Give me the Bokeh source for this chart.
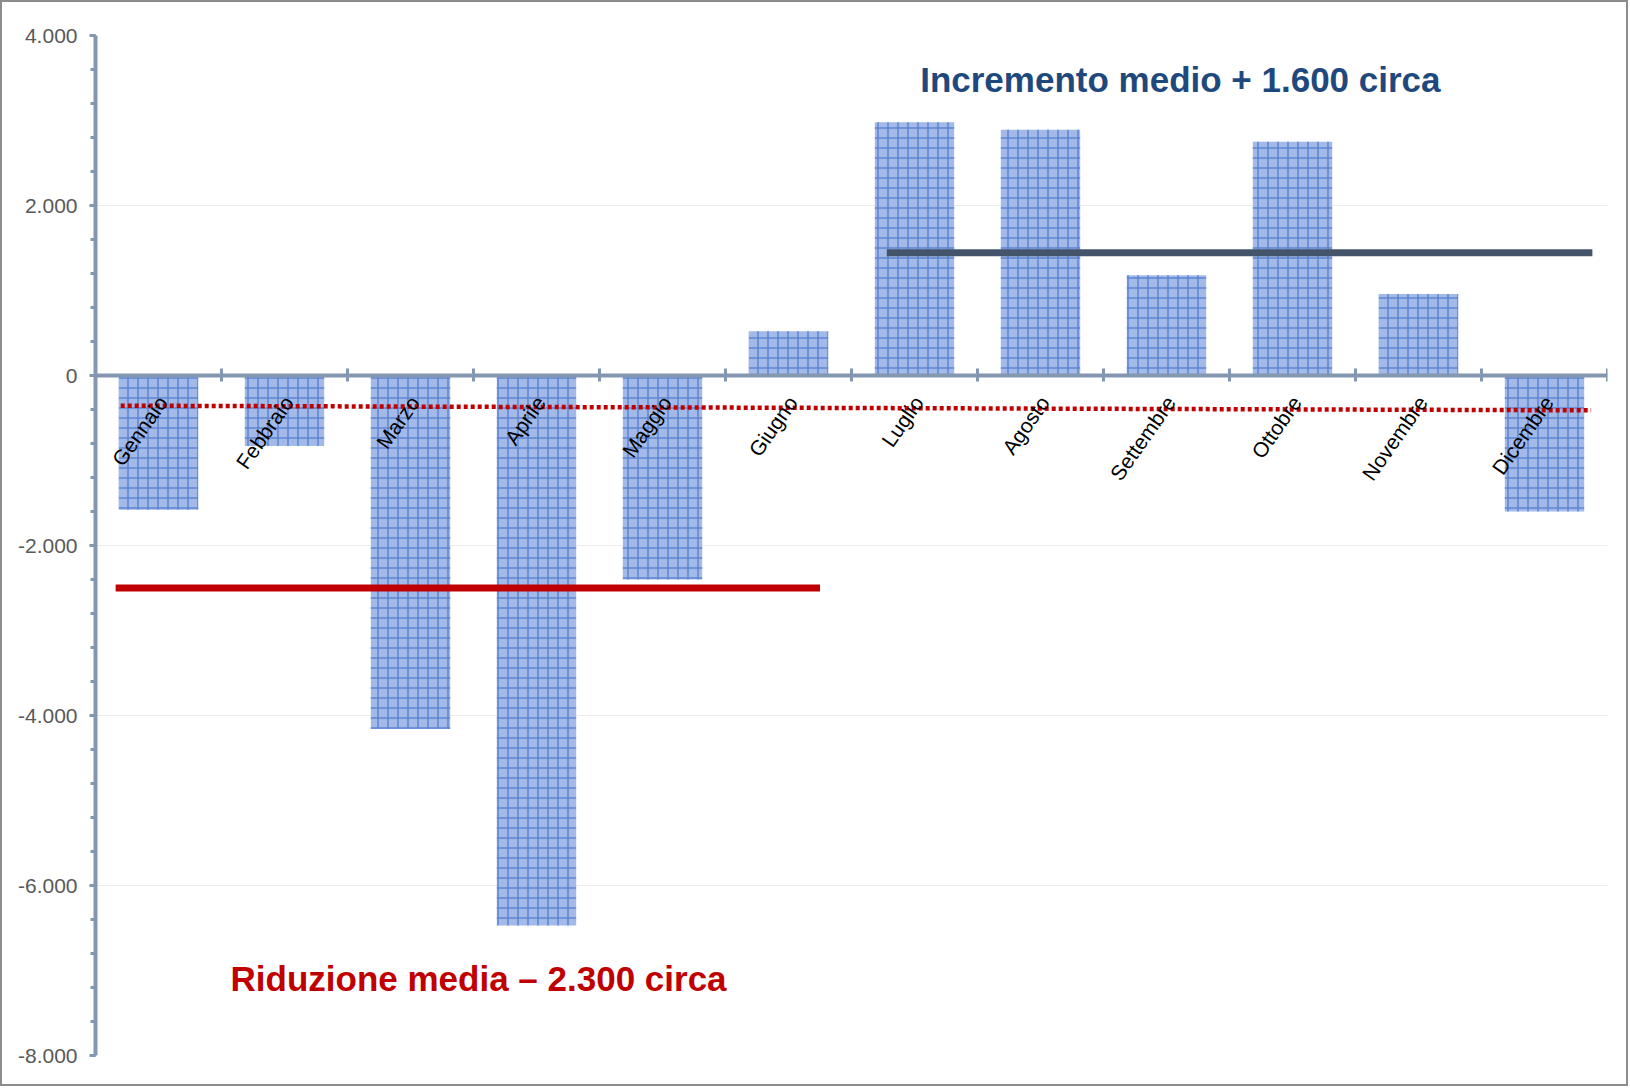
import math
import numpy as np
from bokeh.plotting import figure
from bokeh.models import (Range1d, LinearAxis, FixedTicker, Label, ColumnDataSource)
from bokeh.core.properties import value
from bokeh.embed import file_html
from bokeh.resources import INLINE

# ---- data ----
months = ["Gennaio", "Febbraio", "Marzo", "Aprile", "Maggio", "Giugno",
          "Luglio", "Agosto", "Settembre", "Ottobre", "Novembre", "Dicembre"]
values = [-1580, -830, -4160, -6470, -2400, 520, 2980, 2890, 1180, 2750, 960, -1600]
avg_reduction = -2500      # first five months
avg_increase = 1445        # July - December
trend_start = -355
trend_end = -410
y_ticks = [-8000, -6000, -4000, -2000, 0, 2000, 4000]
y_tick_labels = ["-8.000", "-6.000", "-4.000", "-2.000", "0", "2.000", "4.000"]
label_increase = "Incremento medio + 1.600 circa"
label_reduction = "Riduzione media \u2013 2.300 circa"

x = np.arange(len(months))

p = figure(width=1628, height=1086, output_backend="svg", toolbar_location=None,
           x_range=Range1d(-0.5, len(months) - 0.5), y_range=Range1d(-8000, 4000),
           x_axis_location=None, y_axis_location=None)
p.min_border_left = 93
p.min_border_top = 33
p.min_border_bottom = 33
p.min_border_right = 23
p.outline_line_color = None
p.background_fill_color = "white"
p.border_fill_color = "white"
p.styles = {"border": "2px solid #8c8c8c"}

axis_color = "#8497B0"

# y axis
yaxis = LinearAxis(ticker=FixedTicker(ticks=y_ticks,
                                      minor_ticks=list(range(-8000, 4001, 400))))
yaxis.major_label_overrides = {t: l for t, l in zip(y_ticks, y_tick_labels)}
yaxis.axis_line_color = axis_color
yaxis.axis_line_width = 4
yaxis.major_tick_line_color = axis_color
yaxis.major_tick_line_width = 3
yaxis.major_tick_out = 6
yaxis.major_tick_in = 0
yaxis.minor_tick_line_color = axis_color
yaxis.minor_tick_line_width = 3
yaxis.minor_tick_out = 5
yaxis.minor_tick_in = 0
yaxis.major_label_text_font = "Liberation Sans"
yaxis.major_label_text_font_size = "21px"
yaxis.major_label_text_color = "#595959"
yaxis.major_label_standoff = 12
p.add_layout(yaxis, "left")

# x axis at zero (category boundaries as ticks)
xaxis = LinearAxis(fixed_location=0,
                   ticker=FixedTicker(ticks=[],
                                      minor_ticks=[i - 0.5 for i in range(len(months) + 1)]))
xaxis.axis_line_color = axis_color
xaxis.axis_line_width = 4
xaxis.major_tick_line_color = None
xaxis.minor_tick_line_color = axis_color
xaxis.minor_tick_line_width = 3
xaxis.minor_tick_in = 7
xaxis.minor_tick_out = 6
xaxis.major_label_text_font_size = "0px"
p.add_layout(xaxis, "below")

# grid
p.ygrid.ticker = FixedTicker(ticks=y_ticks)
p.ygrid.grid_line_color = "#ececec"
p.ygrid.grid_line_width = 1
p.xgrid.grid_line_color = None

src = ColumnDataSource(dict(x=x, top=values, month=months, zero=[0] * len(months)))

# bars
p.vbar(x="x", top="top", bottom=0, width=0.63, source=src,
       fill_color="#A3B9E7", line_color=None,
       hatch_pattern="+", hatch_color="#5580CF", hatch_scale=10,
       hatch_weight=1.5, hatch_alpha=0.9)

# average lines
p.line(x=[-0.34, 5.25], y=[avg_reduction, avg_reduction],
       line_color="#C00000", line_width=7)
p.line(x=[5.78, 11.38], y=[avg_increase, avg_increase],
       line_color="#44546A", line_width=7)

# trend (dotted)
p.line(x=[-0.3, 11.37], y=[trend_start, trend_end],
       line_color="#C00000", line_width=4.5, line_dash="4 3")

# month labels, rotated
p.text(x="x", y="zero", text="month", source=src, angle=math.radians(55),
       text_align="right", text_baseline="middle", x_offset=4, y_offset=23,
       text_font=value("Liberation Sans"), text_font_size="21px", text_color="black")

# annotations
p.add_layout(Label(x=8.11, y=3483, text=label_increase, text_align="center",
                   text_baseline="alphabetic", text_font="Liberation Sans",
                   text_font_style="bold", text_font_size="35px",
                   text_color="#1F497D"))
p.add_layout(Label(x=2.54, y=-7094, text=label_reduction, text_align="center",
                   text_baseline="alphabetic", text_font="Liberation Sans",
                   text_font_style="bold", text_font_size="35px",
                   text_color="#C00000"))

open("out.html", "w").write(file_html(p, INLINE))
